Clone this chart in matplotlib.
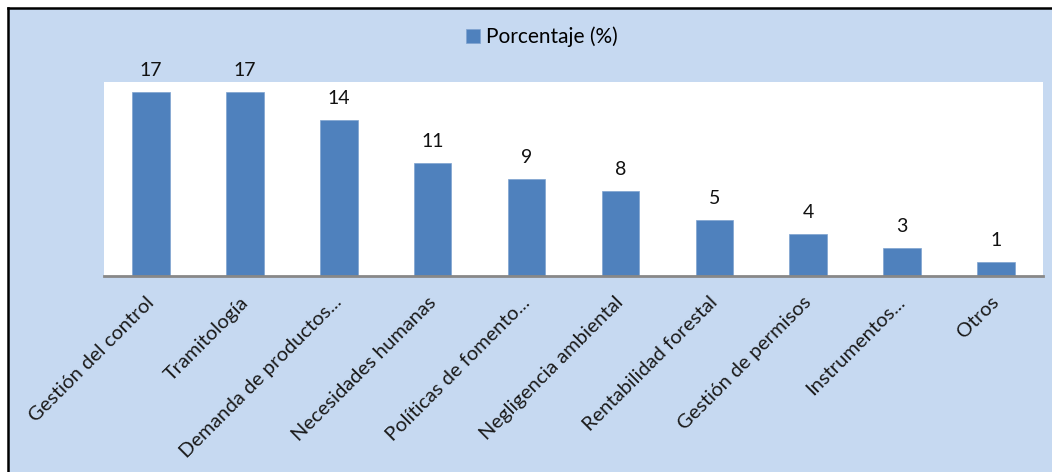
import numpy as np
import matplotlib
matplotlib.use('Agg')
import matplotlib.pyplot as plt
from matplotlib.patches import Rectangle
from matplotlib.lines import Line2D
import matplotlib.transforms as mtransforms

plt.rcParams['font.family'] = ['Lato', 'DejaVu Sans']

categorias = ['Gestión del control', 'Tramitología', 'Demanda de productos...',
              'Necesidades humanas', 'Políticas de fomento...', 'Negligencia ambiental',
              'Rentabilidad forestal', 'Gestión de permisos', 'Instrumentos...', 'Otros']
valores = [17.1, 17.1, 14.5, 10.5, 9.0, 7.9, 5.2, 3.9, 2.6, 1.3]
etiquetas = ['17', '17', '14', '11', '9', '8', '5', '4', '3', '1']
serie = 'Porcentaje (%)'

azul = '#4f81bd'
fondo = '#c6d9f1'

fig = plt.figure(figsize=(10.52, 4.72), dpi=100, facecolor='white')
W, H = 1052, 472
fig.patches.append(Rectangle((8/W, 0), 1 - 8/W, 1 - 8/H, transform=fig.transFigure,
                             facecolor=fondo, edgecolor='none', zorder=-10))
fig.lines.append(Line2D([7.5/W, 1], [1 - 7.5/H, 1 - 7.5/H], transform=fig.transFigure,
                        color='black', lw=1.8, zorder=-5))
fig.lines.append(Line2D([7.5/W, 7.5/W], [0, 1 - 7.5/H], transform=fig.transFigure,
                        color='black', lw=1.8, zorder=-5))

ax = fig.add_axes([104/W, 1 - 275.5/H, (1043 - 104)/W, (275.5 - 82)/H])
ax.set_facecolor('white')
x = np.arange(len(categorias))
barras = ax.bar(x, valores, width=0.40, color=azul, edgecolor='#7fa3d0', linewidth=0.5,
                label=serie, zorder=2)
ax.set_xlim(-0.5, len(categorias) - 0.5)
ax.set_ylim(0, 18.0)
for s in ['top', 'right', 'left']:
    ax.spines[s].set_visible(False)
ax.spines['bottom'].set_color('#888888')
ax.spines['bottom'].set_linewidth(2)
ax.set_yticks([])
ax.set_xticks(x)
ax.set_xticklabels(categorias, rotation=45, ha='right', rotation_mode='anchor',
                   fontsize=14.5, color='#1a1a1a')
ax.tick_params(axis='x', length=0, pad=13)
offset = mtransforms.ScaledTranslation(-4/72, 0, fig.dpi_scale_trans)
for lab in ax.get_xticklabels():
    lab.set_transform(lab.get_transform() + offset)

for xi, v, t in zip(x, valores, etiquetas):
    ax.annotate(t, (xi, v), xytext=(0, 11), textcoords='offset points',
                ha='center', va='baseline', fontsize=14, color='#111111',
                annotation_clip=False)

leg = fig.legend(handles=[barras], labels=[serie], loc='center',
                 bbox_to_anchor=(542/W, 1 - 37/H), frameon=False, fontsize=15,
                 handlelength=0.65, handleheight=0.65, handletextpad=0.3)

fig.savefig('out.png', dpi=100, facecolor=fig.get_facecolor())
